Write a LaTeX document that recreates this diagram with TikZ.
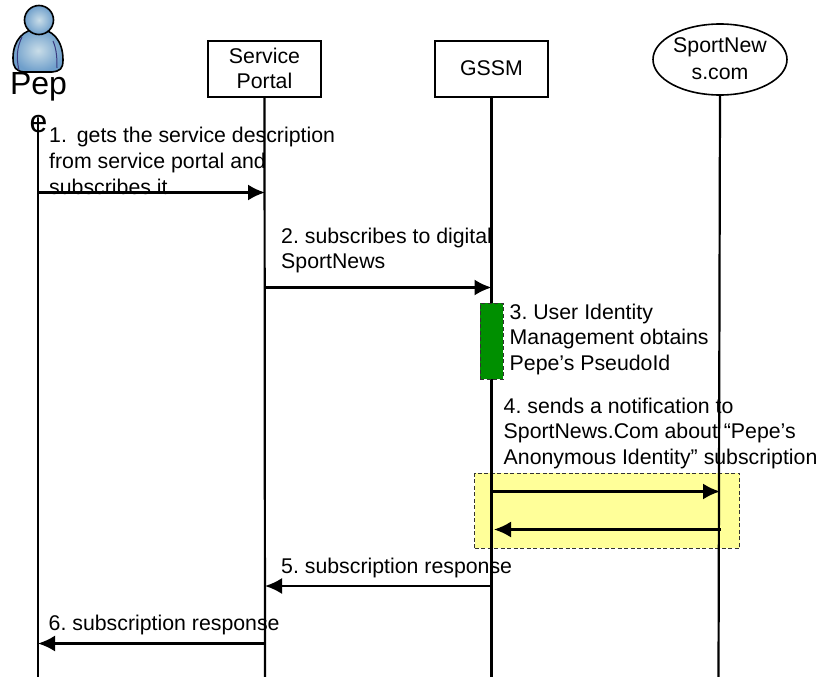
\documentclass[tikz,border=0pt]{standalone}
\usepackage{fontspec}
\setmainfont{Liberation Sans}
\frenchspacing
\usetikzlibrary{arrows.meta,shapes.geometric}
\definecolor{bodyblue}{HTML}{6F9FCB}
\definecolor{lightblue}{HTML}{C9DDE8}
\definecolor{edgeblue}{HTML}{3A3A80}
\definecolor{noteyellow}{HTML}{FFFF99}
\definecolor{activegreen}{HTML}{008F00}
\tikzset{
  x=1pt,y=-1pt,
  lifeline/.style={line width=2.2pt,line cap=round},
  msg/.style={line width=2.2pt,-{Latex[length=17pt,width=16pt]}},
  actorbox/.style={draw=black,line width=1.6pt,fill=white,minimum width=113pt,minimum height=56pt,align=center,inner sep=0pt,font=\fontsize{21.3}{25}\selectfont},
  lbl/.style={anchor=north west,align=left,inner sep=0pt,text depth=0pt,font=\fontsize{21.3}{25.8}\selectfont},
  dashedbox/.style={draw=black!80,dashed,dash pattern=on 4pt off 2.5pt,line width=1pt}
}
\begin{document}
\begin{tikzpicture}
\useasboundingbox (0,0) rectangle (822,677);
% yellow frame under the lifelines
\node[dashedbox,fill=noteyellow,minimum width=265pt,minimum height=75pt,inner sep=0pt] (frame) at (607,510.5) {};
% actor icon
\shade[inner color=lightblue,outer color=bodyblue,draw=black,line width=1.6pt]
  (13,58) .. controls (13,40) and (24,29) .. (38,29) .. controls (52,29) and (63,40) .. (63,60)
  .. controls (63,69) and (60,71) .. (52,72) -- (24,72) .. controls (16,71) and (13,68) .. (13,58) -- cycle;
\draw[edgeblue,line width=1pt] (22,37) .. controls (17,47) and (16,58) .. (19,70);
\draw[edgeblue,line width=1pt] (53,41) .. controls (57,50) and (57,60) .. (57,68);
\shade[inner color=lightblue,outer color=bodyblue,draw=black,line width=1.6pt] (39,20) circle (14.5);
\node[font=\fontsize{32}{32}\selectfont,inner sep=0pt,anchor=base] (pep) at (38.5,94) {Pep};
\node[font=\fontsize{32}{32}\selectfont,inner sep=0pt,anchor=base] (pepe) at (38.5,132) {e};
% head nodes
\node[actorbox] (portal) at (264.5,69) {};
\node[font=\fontsize{21.3}{25}\selectfont,align=center,inner sep=0pt] (portaltext) at (264.5,68) {Service\\Portal};
\node[actorbox] (gssm) at (491.5,69) {};
\node[font=\fontsize{21.3}{25}\selectfont,inner sep=0pt] (gssmtext) at (491.5,68) {GSSM};
\node[draw=black,line width=1.6pt,fill=white,ellipse,minimum width=134pt,minimum height=71pt,inner sep=0pt] (sport) at (720,59.5) {};
\node[font=\fontsize{21.3}{26.5}\selectfont,align=center,inner sep=0pt] (sporttext) at (720,58.5) {SportNew\\s.com};
% lifelines
\coordinate (e1) at (38,677);
\coordinate (e2) at (265,677);
\coordinate (e3) at (491.5,677);
\coordinate (e4) at (718.5,677);
\coordinate (s1) at (38,118);
\draw[lifeline] (s1) -- (e1);
\draw[lifeline] (portal.south) -- (e2);
\draw[lifeline] (gssm.south) -- (e3);
\draw[lifeline] (sport.south) -- (e4);
% green activation covers the GSSM lifeline
\node[dashedbox,fill=activegreen,minimum width=23pt,minimum height=76pt,inner sep=0pt] (act) at (491.5,341) {};
% messages
\coordinate (a1) at (38,192.5); \coordinate (b1) at (265,192.5);
\coordinate (a2) at (265,287.5); \coordinate (b2) at (491.5,287.5);
\coordinate (a3) at (491.5,491.5); \coordinate (b3) at (720,491.5);
\coordinate (a4) at (720.5,529.5); \coordinate (b4) at (494,529.5);
\coordinate (a5) at (491.5,586); \coordinate (b5) at (265,586);
\coordinate (a6) at (265,643.5); \coordinate (b6) at (38,643.5);
\draw[msg] (a1) -- (b1);
\draw[msg] (a2) -- (b2);
\draw[msg] (a3) -- (b3);
\draw[msg] (a4) -- (b4);
\draw[msg] (a5) -- (b5);
\draw[msg] (a6) -- (b6);
% labels
\node[lbl] (l1) at (49,127) {1.\ \kern4pt gets the service description\\from service portal and\\subscribes it};
\node[lbl] (l2) at (281,227.5) {2. subscribes to digital\\SportNews};
\node[lbl] (l3) at (509.5,303.5) {3. User Identity\\Management obtains\\Pepe’s PseudoId};
\node[lbl] (l4) at (503.5,397.5) {4. sends a notification to\\SportNews.Com about “Pepe's\\Anonymous Identity” subscription};
\node[lbl] (l5) at (281,558) {5. subscription response};
\node[lbl] (l6) at (48.5,615) {6. subscription response};
\end{tikzpicture}
\end{document}
